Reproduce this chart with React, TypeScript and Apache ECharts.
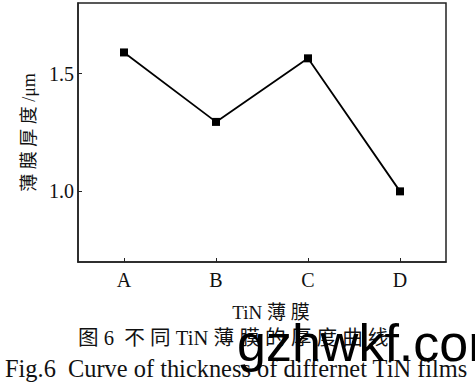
import React, { useEffect, useRef } from "react";
import * as echarts from "echarts";

const categories = ["A", "B", "C", "D"];
const thickness = [1.59, 1.295, 1.565, 1.0];
const yTicks = [1.0, 1.5];
const yName = "薄\u00a0膜\u00a0厚\u00a0度\u00a0/μm";
const xName = "TiN 薄\u00a0膜";
const captionCn = "图\u00a06\u00a0\u00a0不\u00a0同\u00a0TiN\u00a0薄\u00a0膜\u00a0的\u00a0厚\u00a0度\u00a0曲\u00a0线";
const captionEn = "Fig.6  Curve of thickness of differnet TiN films";
const watermark = "gzhwkf.com";

const serif = "'Liberation Serif', 'Noto Sans CJK SC', serif";

export default function App() {
  const ref = useRef<HTMLDivElement>(null);
  useEffect(() => {
    if (!ref.current) return;
    const chart = echarts.init(ref.current, null, { renderer: "svg" });
    chart.setOption({
      animation: false,
      backgroundColor: "#ffffff",
      grid: {
        left: 78,
        right: 29,
        top: 3,
        bottom: 128,
        show: true,
        borderColor: "#222",
        borderWidth: 1.5,
        containLabel: false,
      },
      xAxis: {
        type: "category",
        data: categories,
        boundaryGap: true,
        axisLine: { show: true, lineStyle: { color: "#222", width: 1.5 } },
        axisTick: { show: true, inside: true, length: 4, alignWithLabel: true, lineStyle: { color: "#222" } },
        axisLabel: { color: "#111", fontSize: 20, fontFamily: serif, margin: 8 },
        name: xName,
        nameLocation: "middle",
        nameGap: 41,
        nameTextStyle: { color: "#111", fontSize: 19, fontFamily: serif, padding: [0, 0, 0, 18] },
        splitLine: { show: false },
      },
      yAxis: {
        type: "value",
        min: 0.7,
        max: 1.8,
        axisLine: { show: true, lineStyle: { color: "#222", width: 1.5 } },
        axisTick: { show: true, inside: true, length: 4, customValues: yTicks, lineStyle: { color: "#222" } },
        axisLabel: {
          color: "#111",
          fontSize: 20,
          fontFamily: serif,
          margin: 4,
          customValues: yTicks,
          formatter: (v: number) => v.toFixed(1),
        },
        splitLine: { show: false },
        name: yName,
        nameLocation: "middle",
        nameGap: 36,
        nameTextStyle: { color: "#111", fontSize: 18, fontFamily: serif },
      },
      series: [
        {
          type: "line",
          data: thickness,
          symbol: "rect",
          symbolSize: 8,
          itemStyle: { color: "#000" },
          lineStyle: { color: "#000", width: 1.8 },
        },
      ],
      graphic: [
        {
          type: "text",
          x: 78,
          y: 328,
          style: { text: captionCn, font: `20.6px ${serif}`, fill: "#111" },
          z: 10,
        },
        {
          type: "text",
          x: 5,
          y: 356,
          style: { text: captionEn, font: `24.4px ${serif}`, fill: "#111" },
          z: 10,
        },
        {
          type: "text",
          x: 237,
          y: 317,
          style: { text: watermark, font: `52px 'Liberation Sans', sans-serif`, fill: "#000" },
          z: 20,
        },
      ],
    });
    return () => chart.dispose();
  }, []);
  return <div ref={ref} style={{ width: 475, height: 390, position: "absolute", left: 0, top: 0 }} />;
}
